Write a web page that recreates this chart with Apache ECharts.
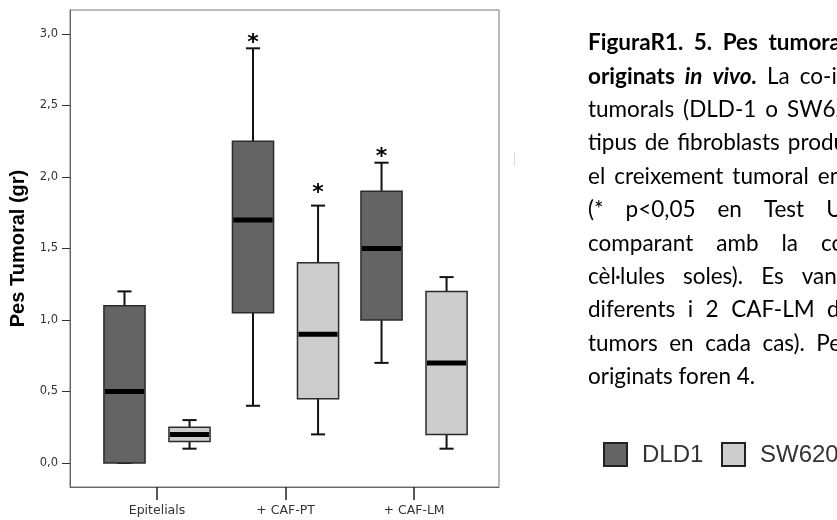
<!DOCTYPE html>
<html>
<head>
<meta charset="utf-8">
<script src="https://cdn.jsdelivr.net/npm/echarts@6/dist/echarts.min.js"></script>
<style>
html,body{margin:0;padding:0;background:#fff;overflow:hidden}
#c{width:837px;height:520px}
</style>
</head>
<body>
<div id="c"></div>
<script>
// ---------- DATA ----------
const categories = ['Epitelials', '+ CAF-PT', '+ CAF-LM'];
const seriesNames = ['DLD1', 'SW620'];
// [min, Q1, median, Q3, max] per category
const dld1Box = [
  [0.0, 0.0, 0.5, 1.1, 1.2],
  [0.4, 1.05, 1.7, 2.25, 2.9],
  [0.7, 1.0, 1.5, 1.9, 2.1]
];
const sw620Box = [
  [0.1, 0.15, 0.2, 0.25, 0.3],
  [0.2, 0.45, 0.9, 1.4, 1.8],
  [0.1, 0.2, 0.7, 1.2, 1.3]
];
// height (y value) of significance asterisks, null = none
const dld1Sig = [null, 2.97, 2.17];
const sw620Sig = [null, 1.92, null];
const yTicks = [0, 0.5, 1.0, 1.5, 2.0, 2.5, 3.0];
const xTicks = [0, 1, 2];
const yTitle = 'Pes Tumoral (gr)';
const captionLines = [
  'FiguraR1. 5. Pes tumorals',
  'originats in vivo. La co-injecció',
  'tumorals (DLD-1 o SW620)',
  'tipus de fibroblasts produeix',
  'el creixement tumoral en',
  '(* p<0,05 en Test U',
  'comparant amb la condició',
  'cèl·lules soles). Es van',
  'diferents i 2 CAF-LM diferents',
  'tumors en cada cas). Pel',
  'originats foren 4.'
];
const captionBoldWords = [4, 3, 0, 0, 0, 0, 0, 0, 0, 0, 0];
const captionItalicWords = {1: [1, 2]};

// ---------- LAYOUT / STYLE ----------
const X_MIN = -0.677, X_MAX = 2.661;
const Y_MIN = -0.168, Y_MAX = 3.168;
const GROUP_OFFSET = 0.253, BOX_W = 0.32, CAP_W = 0.11;
const COLORS = ['#646464', '#cdcdcd'];
const CAP_X = 588, CAP_Y0 = 43, CAP_LH = 33.4, CAP_FS = 22.5, CAP_FAMILY = 'Lato';
const captionGaps = [10.5, 10, 9, 8, 9, 22, 23, 18, 12.5, 11.5, null];

const chart = echarts.init(document.getElementById('c'), null, {renderer: 'canvas', width: 837, height: 520});

function boxRender(offset, fill) {
  return function (params, api) {
    const xc = api.value(0) + offset;
    const top = api.coord([xc, api.value(5)]);
    const q3 = api.coord([xc, api.value(4)]);
    const med = api.coord([xc, api.value(3)]);
    const q1 = api.coord([xc, api.value(2)]);
    const bot = api.coord([xc, api.value(1)]);
    const hb = api.size([BOX_W, 0])[0] / 2;
    const hc = api.size([CAP_W, 0])[0] / 2;
    const cx = med[0];
    const ls = {stroke: '#111', lineWidth: 2};
    return {
      type: 'group',
      children: [
        {type: 'line', shape: {x1: cx, y1: q3[1], x2: cx, y2: top[1]}, style: ls},
        {type: 'line', shape: {x1: cx, y1: q1[1], x2: cx, y2: bot[1]}, style: ls},
        {type: 'line', shape: {x1: cx - hc, y1: top[1], x2: cx + hc, y2: top[1]}, style: ls},
        {type: 'line', shape: {x1: cx - hc, y1: bot[1], x2: cx + hc, y2: bot[1]}, style: ls},
        {type: 'rect', shape: {x: cx - hb, y: q3[1], width: 2 * hb, height: q1[1] - q3[1]},
          style: {fill: fill, stroke: '#2b2b2b', lineWidth: 1.5}},
        {type: 'line', shape: {x1: cx - hb + 1, y1: med[1], x2: cx + hb - 1, y2: med[1]},
          style: {stroke: '#000', lineWidth: 5}}
      ]
    };
  };
}

function sigRender(params, api) {
  const p = api.coord([api.value(0) + api.value(2) * GROUP_OFFSET, api.value(1)]);
  return {
    type: 'text', x: p[0], y: p[1] + 5,
    style: {text: '*', fontSize: 22, fontWeight: 'bold', fontFamily: 'DejaVu Sans',
      fill: '#000', align: 'center', verticalAlign: 'middle'}
  };
}

const sigData = [];
dld1Sig.forEach((v, i) => { if (v != null) sigData.push([i, v, -1]); });
sw620Sig.forEach((v, i) => { if (v != null) sigData.push([i, v, 1]); });

// caption words (justified-looking lines)
const mctx = document.createElement('canvas').getContext('2d');
const captionElems = [];
captionLines.forEach((line, li) => {
  const words = line.split(' ');
  let x = CAP_X;
  const y = CAP_Y0 + li * CAP_LH;
  words.forEach((w, wi) => {
    const bold = wi < captionBoldWords[li];
    const ital = (captionItalicWords[li] || []).indexOf(wi) >= 0;
    const font = (ital ? 'italic ' : '') + (bold ? 'bold ' : '') + CAP_FS + 'px ' + CAP_FAMILY;
    mctx.font = font;
    captionElems.push({
      type: 'text', x: x, y: y,
      style: {text: w, fontSize: CAP_FS, fontFamily: CAP_FAMILY,
        fontWeight: bold ? 'bold' : 'normal', fontStyle: ital ? 'italic' : 'normal',
        fill: '#000', verticalAlign: 'middle', align: 'left'}
    });
    const gap = captionGaps[li] == null ? mctx.measureText(' ').width : captionGaps[li];
    x += mctx.measureText(w).width + gap;
  });
});

// legend
const legendElems = [
  {type: 'rect', shape: {x: 604, y: 443, width: 23, height: 23}, style: {fill: COLORS[0], stroke: '#222', lineWidth: 2}},
  {type: 'text', x: 642, y: 455, style: {text: seriesNames[0], fontSize: 24, fontFamily: 'Liberation Sans', fill: '#333', verticalAlign: 'middle'}},
  {type: 'rect', shape: {x: 722, y: 443, width: 23, height: 23}, style: {fill: COLORS[1], stroke: '#222', lineWidth: 2}},
  {type: 'text', x: 760, y: 455, style: {text: seriesNames[1], fontSize: 24, fontFamily: 'Liberation Sans', fill: '#333', verticalAlign: 'middle'}},
  {type: 'line', shape: {x1: 514.5, y1: 152, x2: 514.5, y2: 166}, style: {stroke: '#dcdcdc', lineWidth: 1}}
];

chart.setOption({
  animation: false,
  backgroundColor: '#fff',
  grid: {left: 70, top: 10, width: 429, height: 477, show: true, borderColor: '#777', borderWidth: 1, backgroundColor: 'transparent'},
  xAxis: {
    type: 'value', min: X_MIN, max: X_MAX, position: 'bottom',
    axisLine: {show: true, onZero: false, lineStyle: {color: '#666', width: 1}},
    axisTick: {show: true, length: 13, customValues: xTicks, lineStyle: {color: '#222', width: 1.5}},
    axisLabel: {customValues: xTicks, formatter: v => categories[Math.round(v)], margin: 17,
      fontFamily: 'DejaVu Sans', fontSize: 12.5, color: '#333'},
    splitLine: {show: false}
  },
  yAxis: {
    type: 'value', min: Y_MIN, max: Y_MAX, position: 'left',
    name: yTitle, nameLocation: 'middle', nameGap: 40, nameRotate: 90,
    nameTextStyle: {fontFamily: 'Liberation Sans', fontWeight: 'bold', fontSize: 20, color: '#000'},
    axisLine: {show: true, onZero: false, lineStyle: {color: '#666', width: 1}},
    axisTick: {show: true, length: 8, customValues: yTicks, lineStyle: {color: '#333', width: 1}},
    axisLabel: {customValues: yTicks, formatter: v => v.toFixed(1).replace('.', ','), margin: 12,
      fontFamily: 'DejaVu Sans', fontSize: 11.5, color: '#333'},
    splitLine: {show: false}
  },
  series: [
    {type: 'custom', name: seriesNames[0], renderItem: boxRender(-GROUP_OFFSET, COLORS[0]),
      data: dld1Box.map((b, i) => [i].concat(b)), encode: {x: 0, y: [1, 2, 3, 4, 5]}, clip: false},
    {type: 'custom', name: seriesNames[1], renderItem: boxRender(GROUP_OFFSET, COLORS[1]),
      data: sw620Box.map((b, i) => [i].concat(b)), encode: {x: 0, y: [1, 2, 3, 4, 5]}, clip: false},
    {type: 'custom', name: 'sig', renderItem: sigRender, data: sigData, encode: {x: 0, y: 1}, clip: false}
  ],
  graphic: captionElems.concat(legendElems)
});
</script>
</body>
</html>
